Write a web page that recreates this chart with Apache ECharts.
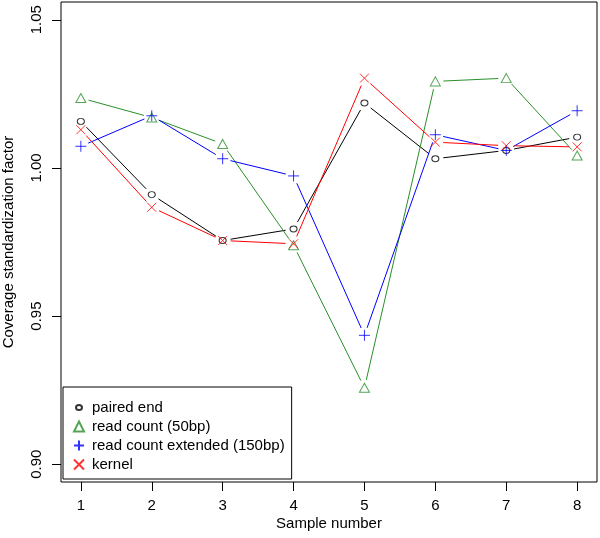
<!DOCTYPE html>
<html>
<head>
<meta charset="utf-8">
<script src="https://cdn.jsdelivr.net/npm/echarts@6/dist/echarts.min.js"></script>
<style>html,body{margin:0;padding:0;background:#fff;}#c{width:600px;height:538px;}</style>
</head>
<body>
<div id="c"></div>
<script>
const sampleNumbers = [1, 2, 3, 4, 5, 6, 7, 8];
const xTicks = [1, 2, 3, 4, 5, 6, 7, 8];
const yTicks = [0.90, 0.95, 1.00, 1.05];
const pairedEnd = [1.0157, 0.9910, 0.9755, 0.9794, 1.0219, 1.0031, 1.0059, 1.0104];
const readCount50 = [1.0236, 1.0170, 1.0081, 0.9739, 0.9258, 1.0292, 1.0303, 1.0042];
const readCountExt150 = [1.0073, 1.0176, 1.0031, 0.9973, 0.9435, 1.0112, 1.0059, 1.0193];
const kernel = [1.0129, 0.9867, 0.9755, 0.9744, 1.0303, 1.0087, 1.0075, 1.0071];

const FONT = '"Liberation Sans", Arial, Helvetica, sans-serif';
const GAP = 8;

function lineSeries(name, ys, color) {
  return {
    type: 'custom', name: name + ' line', coordinateSystem: 'cartesian2d',
    data: sampleNumbers.map((x, i) => [x, ys[i]]),
    encode: { x: 0, y: 1 }, silent: true, z: 1,
    renderItem: function (params, api) {
      const i = params.dataIndex;
      if (i >= ys.length - 1) return null;
      const p0 = api.coord([sampleNumbers[i], ys[i]]);
      const p1 = api.coord([sampleNumbers[i + 1], ys[i + 1]]);
      const dx = p1[0] - p0[0], dy = p1[1] - p0[1];
      const L = Math.hypot(dx, dy);
      if (L <= 2 * GAP) return null;
      const ux = dx / L, uy = dy / L;
      return { type: 'line', shape: { x1: p0[0] + ux * GAP, y1: p0[1] + uy * GAP, x2: p1[0] - ux * GAP, y2: p1[1] - uy * GAP },
        style: { stroke: color, lineWidth: 1, fill: null } };
    }
  };
}
function pointSeries(name, ys, color, symbol, size) {
  return {
    type: 'scatter', name: name, symbol: symbol, symbolSize: size, z: 2,
    data: sampleNumbers.map((x, i) => [x, ys[i]]),
    itemStyle: { color: 'rgba(0,0,0,0)', borderColor: color, borderWidth: 1 },
    emphasis: { disabled: true }
  };
}
const PLUS = 'path://M0,5L10,5M5,0L5,10';
const CROSS = 'path://M0,0L10,10M10,0L0,10';
const SMALL_CIRCLE = 'path://M0,0M10,10M2,5A3,2.6,0,1,1,8,5A3,2.6,0,1,1,2,5Z';
const names = ['paired end', 'read count (50bp)', 'read count extended (150bp)', 'kernel'];
const colors = ['#000000', '#2a8f2a', '#0000ff', '#ff0000'];

const chart = echarts.init(document.getElementById('c'));
chart.setOption({
  animation: false,
  backgroundColor: '#fff',
  grid: { left: 61, right: 3, top: 2, bottom: 56, show: true, borderColor: '#000', borderWidth: 1, backgroundColor: 'transparent', outerBoundsMode: 'none', containLabel: false },
  xAxis: {
    type: 'value', min: 0.72, max: 8.28,
    name: 'Sample number', nameLocation: 'middle', nameGap: 34, nameMoveOverlap: false,
    nameTextStyle: { fontFamily: FONT, fontSize: 15, color: '#000' },
    axisLine: { show: false },
    axisTick: { show: true, length: 9, lineStyle: { color: '#000' }, customValues: xTicks },
    axisLabel: { fontFamily: FONT, fontSize: 15, color: '#000', margin: 16, customValues: xTicks, formatter: v => String(v) },
    splitLine: { show: false }
  },
  yAxis: {
    type: 'value', min: 0.894, max: 1.056,
    name: 'Coverage standardization factor', nameLocation: 'middle', nameGap: 45, nameMoveOverlap: false,
    nameTextStyle: { fontFamily: FONT, fontSize: 15, color: '#000' },
    axisLine: { show: false },
    axisTick: { show: true, length: 9, lineStyle: { color: '#000' }, customValues: yTicks },
    axisLabel: { fontFamily: FONT, fontSize: 15, color: '#000', margin: 17, rotate: 90, customValues: yTicks, formatter: v => v.toFixed(2) },
    splitLine: { show: false }
  },
  legend: {
    data: [
      { name: names[0], icon: SMALL_CIRCLE },
      { name: names[1] },
      { name: names[2] },
      { name: names[3] }
    ],
    orient: 'vertical', left: 63, top: 387,
    itemWidth: 10, itemHeight: 10, itemGap: 4,
    padding: [13, 7, 7, 10],
    borderColor: '#000', borderWidth: 1, backgroundColor: '#fff',
    textStyle: { fontFamily: FONT, fontSize: 15, color: '#000', lineHeight: 15, padding: [0, 0, 0, 3] },
    selectedMode: false
  },
  series: [
    lineSeries(names[0], pairedEnd, colors[0]),
    lineSeries(names[1], readCount50, colors[1]),
    lineSeries(names[2], readCountExt150, colors[2]),
    lineSeries(names[3], kernel, colors[3]),
    pointSeries(names[0], pairedEnd, colors[0], 'circle', [7, 6]),
    pointSeries(names[1], readCount50, colors[1], 'triangle', [10, 9]),
    pointSeries(names[2], readCountExt150, colors[2], PLUS, 11),
    pointSeries(names[3], kernel, colors[3], CROSS, 9)
  ]
});
</script>
</body>
</html>
